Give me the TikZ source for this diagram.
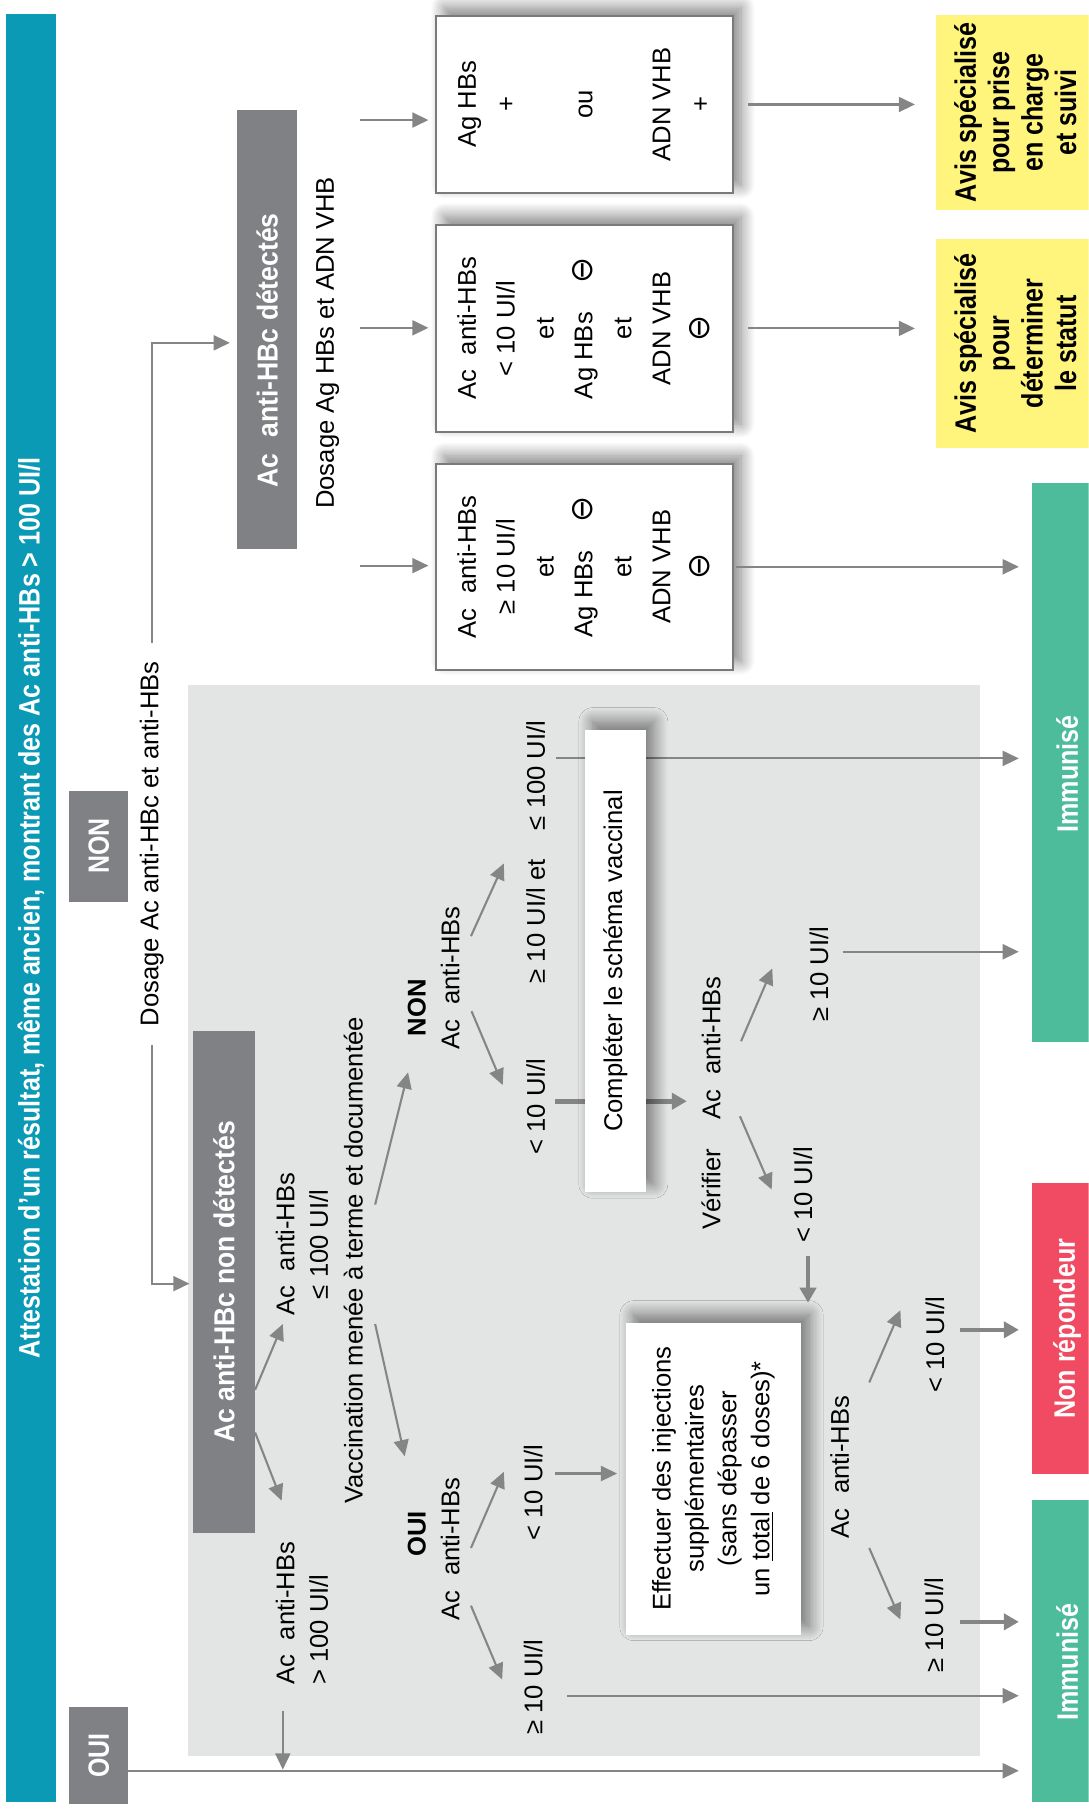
\documentclass[tikz,border=0pt]{standalone}
\usepackage{fontspec}
\setmainfont{Liberation Sans}
\newfontfamily\bodyf{Liberation Sans}
\newfontfamily\condf[FakeStretch=0.85]{Liberation Sans}
\newfontfamily\lblf[FakeStretch=0.92]{Liberation Sans}
\newfontfamily\symf{DejaVu Sans}
\usetikzlibrary{arrows.meta,shadows.blur}
\definecolor{bluebar}{HTML}{0A9AB6}
\definecolor{lblgray}{HTML}{808184}
\definecolor{regiongray}{HTML}{E3E4E4}
\definecolor{arrgray}{HTML}{858585}
\definecolor{boxborder}{HTML}{7A7A7A}
\definecolor{immgreen}{HTML}{4CBC9B}
\definecolor{nonred}{HTML}{F04B63}
\definecolor{avisyellow}{HTML}{FFF47C}
\newcommand{\vt}[1]{\rotatebox{90}{\begin{tabular}{@{}c@{}}#1\end{tabular}}}
\newcommand{\cminus}{{\symf\fontsize{13.5}{13.5}\selectfont ⊖}}
\newcommand{\AcHBs}{Ac\hspace{0.3em} anti-HBs}
\newcommand{\bodysz}{\bodyf\fontsize{11.1}{14.5}\selectfont}
\begin{document}
\begin{tikzpicture}[x=0.5pt,y=-0.5pt,
  sz/.style 2 args={minimum width={#1*0.5pt},minimum height={#2*0.5pt}},
  lbl/.style={rotate=90,inner sep=0pt,font=\bodysz,align=center},
  arr/.style={draw=arrgray,line width=0.9pt,-{Triangle[length=7pt,width=6.5pt]}},
  tarr/.style={draw=arrgray,line width=2pt,-{Triangle[length=6.5pt,width=7pt]}},
  shad/.style={blur shadow={shadow xshift=3.5pt,shadow yshift=3.5pt,shadow blur radius=6pt,shadow blur steps=16,shadow opacity=50}},
  wbox/.style={shad,fill=white,draw=boxborder,line width=0.85pt,inner sep=0pt,font=\bodyf\fontsize{11.1}{16.85}\selectfont},
  pbox/.style={shad,fill=white,inner sep=0pt},
  gbox/.style={fill=lblgray,text=white,inner sep=0pt},
  resbox/.style={inner sep=0pt,text=white,font=\condf\bfseries\fontsize{12.8}{14.5}\selectfont},
  avis/.style={fill=avisyellow,inner sep=0pt,font=\condf\bfseries\fontsize{12.8}{14.5}\selectfont},
]
\useasboundingbox (0,0) rectangle (943,1568);
\clip (0,0) rectangle (943,1568);

% grey region
\fill[regiongray] (163,593) rectangle (849,1521);

% header bar
\node[fill=bluebar,text=white,inner sep=0pt,sz={43.7}{1549},font=\condf\bfseries\fontsize{12.8}{14}\selectfont] (bar) at (26.85,786.5)
  {\rotatebox{90}{Attestation d’un résultat, même ancien, montrant des Ac anti-HBs > 100 UI/l}};

% NON / OUI boxes
\node[gbox,sz={51}{96},font=\condf\bfseries\fontsize{12.7}{14}\selectfont] (non) at (85.5,733) {\rotatebox{90}{NON}};
\node[gbox,sz={51}{84},font=\condf\bfseries\fontsize{12.7}{14}\selectfont] (oui) at (85.5,1521) {\rotatebox{90}{OUI}};

% result boxes (right)
\node[resbox,fill=immgreen,sz={61}{485}] (imm1) at (924.5,660.5) {\rotatebox{90}{Immunisé\hspace{10pt}}};
\node[resbox,fill=nonred,sz={61}{252}] (nr) at (924.5,1151) {\rotatebox{90}{Non répondeur}};
\node[resbox,fill=immgreen,sz={61}{262}] (imm2) at (924.5,1430) {\rotatebox{90}{Immunisé\hspace{10pt}}};
\node[avis,sz={144}{169}] (yA) at (883,97.5) {\vt{Avis spécialisé\\pour prise\\en charge\\et suivi}};
\node[avis,sz={144}{181}] (yB) at (883,297.5) {\vt{Avis spécialisé\\pour\\déterminer\\le statut}};

% grey label boxes
\node[gbox,sz={52}{381},font=\lblf\bfseries\fontsize{12.5}{14}\selectfont] (det) at (231.5,285.5)
  {\rotatebox{90}{Ac\hspace{0.3em} anti-HBc détectés\hspace{18pt}}};
\node[gbox,sz={53}{435},font=\lblf\bfseries\fontsize{12.5}{14}\selectfont] (ndet) at (194,1110.5)
  {\rotatebox{90}{Ac anti-HBc non détectés}};

% top white boxes
\node[wbox,sz={257}{154}] (bA) at (506.5,90.5) {\vt{Ag HBs\\+\\ \\ou\\ \\ADN VHB\\+}};
\node[wbox,sz={257}{180}] (bB) at (506.5,284.5) {\vt{\AcHBs\\< 10 UI/l\\et\\Ag HBs\hspace{1.1em}\cminus\\et\\ADN VHB\\\cminus}};
\node[wbox,sz={257}{178}] (bC) at (506.5,491) {\vt{\AcHBs\\≥ 10 UI/l\\et\\Ag HBs\hspace{1.1em}\cminus\\et\\ADN VHB\\\cminus}};

% labels
\node[lbl,inner xsep=8pt] (dosc) at (131.5,731) {Dosage Ac anti-HBc et anti-HBs};
\node[lbl] (dag) at (284,297) {Dosage Ag HBs et ADN VHB};
\node[lbl] (ab1) at (261.5,1078) {\AcHBs\\≤ 100 UI/l};
\node[lbl,align=left,anchor=west] (ab2) at (261.5,1460) {\AcHBs\\> 100 UI/l};
\node[lbl] (vac) at (306,1092) {Vaccination menée à terme et documentée};
\node[lbl,font=\bodysz\bfseries] (nonl) at (361,873) {NON};
\node[lbl] (acn) at (390,847) {\AcHBs};
\node[lbl,font=\bodysz\bfseries] (ouil) at (361,1329) {OUI};
\node[lbl] (aco) at (390,1342) {\AcHBs};
\node[lbl] (r1) at (464,738) {≥ 10 UI/l et\hspace{1.15em}≤ 100 UI/l};
\node[lbl] (r2) at (464,958.5) {< 10 UI/l};
\node[lbl] (ver) at (616,955.5) {Vérifier\hspace{1.15em}\AcHBs};
\node[lbl] (v1) at (709.5,844) {≥ 10 UI/l};
\node[lbl] (v2) at (695.5,1035) {< 10 UI/l};
\node[lbl] (o1) at (462,1293) {< 10 UI/l};
\node[lbl] (o2) at (462,1461.5) {≥ 10 UI/l};
\node[lbl] (acb) at (727.5,1271) {\AcHBs};
\node[lbl] (e1) at (810,1165) {< 10 UI/l};
\node[lbl] (e2) at (809,1408) {≥ 10 UI/l};

% coordinates for connector ends
\coordinate (dtop) at (131.5,297);
\coordinate (dbot) at (131.5,1112);
\coordinate (sa) at (312,104);
\coordinate (sb) at (312,284);
\coordinate (sc) at (312,490);
\coordinate (n1s) at (221,1204); \coordinate (n1e) at (245,1147);
\coordinate (n2s) at (221,1241); \coordinate (n2e) at (244,1300);
\coordinate (ab2s) at (245,1482);
\coordinate (ol) at (111,1534);
\coordinate (va1s) at (325,1043.5); \coordinate (va1e) at (353.5,929);
\coordinate (va2s) at (325,1147); \coordinate (va2e) at (350.6,1261.5);
\coordinate (nn1s) at (408,811); \coordinate (nn1e) at (436.5,748);
\coordinate (nn2s) at (408.5,876); \coordinate (nn2e) at (435.5,940);
\coordinate (r1s) at (482,657);
\coordinate (r2s) at (481,954); \coordinate (r2e) at (595,954);
\coordinate (ve1s) at (642,902); \coordinate (ve1e) at (669,839);
\coordinate (ve2s) at (641,967); \coordinate (ve2e) at (668.5,1030.5);
\coordinate (v1s) at (730,824.5);
\coordinate (v2s) at (700,1088); \coordinate (v2e) at (700,1128.5);
\coordinate (o1s) at (481,1276.5);
\coordinate (o2s) at (491.5,1469);
\coordinate (ou1s) at (408,1341); \coordinate (ou1e) at (436.5,1275);
\coordinate (ou2s) at (408,1391); \coordinate (ou2e) at (435,1455);
\coordinate (ab1s) at (753,1197.6); \coordinate (ab1e) at (780,1135);
\coordinate (ab3s) at (753,1341); \coordinate (ab3e) at (780,1403);
\coordinate (e1s) at (832,1152);
\coordinate (e2s) at (832,1405);

% lines passing behind the "Compléter" box
\draw[arr,shorten >=5.5pt] (r1s) -- (r1s -| imm1.west);
\draw[tarr] (r2s) -- (r2e);

% Compléter + Effectuer boxes
\node[pbox,sz={53}{401},font=\bodysz] (compl) at (533,832.5) {\rotatebox{90}{Compléter le schéma vaccinal}};
\node[pbox,sz={152}{270.5},font=\bodyf\fontsize{11.1}{14.25}\selectfont] (eff) at (618,1281)
  {\vt{Effectuer des injections\\supplémentaires\\(sans dépasser\\un \underline{total} de 6 doses)*}};

% connectors
\draw[arr,shorten >=3pt] (dosc.east) -- (dtop) -- (dtop -| det.west);
\draw[arr,shorten >=1.5pt] (dosc.west) -- (dbot) -- (dbot -| ndet.west);
\draw[arr,shorten >=3pt] (sa) -- (sa -| bA.west);
\draw[arr,shorten >=3pt] (sb) -- (sb -| bB.west);
\draw[arr,shorten >=3pt] (sc) -- (sc -| bC.west);
\draw[arr,shorten <=6pt,shorten >=9pt] (bA.east) -- (bA.east -| yA.west);
\draw[arr,shorten <=6pt,shorten >=9pt] (bB.east) -- (bB.east -| yB.west);
\draw[arr,shorten <=1pt,shorten >=5.5pt] (bC.east) -- (bC.east -| imm1.west);
\draw[arr] (n1s) -- (n1e);
\draw[arr] (n2s) -- (n2e);
\draw[arr,shorten >=0.5pt] (ab2s) -- (ab2s |- ol);
\draw[arr,shorten >=5.5pt] (ol) -- (ol -| imm2.west);
\draw[arr] (va1s) -- (va1e);
\draw[arr] (va2s) -- (va2e);
\draw[arr] (nn1s) -- (nn1e);
\draw[arr] (nn2s) -- (nn2e);
\draw[arr] (ve1s) -- (ve1e);
\draw[arr] (ve2s) -- (ve2e);
\draw[arr,shorten >=5.5pt] (v1s) -- (v1s -| imm1.west);
\draw[tarr] (v2s) -- (v2e);
\draw[arr,shorten >=3.5pt] (o1s) -- (o1s -| eff.west);
\draw[arr,shorten >=5.5pt] (o2s) -- (o2s -| imm2.west);
\draw[arr] (ou1s) -- (ou1e);
\draw[arr] (ou2s) -- (ou2e);
\draw[arr] (ab1s) -- (ab1e);
\draw[arr] (ab3s) -- (ab3e);
\draw[tarr,shorten >=5.5pt] (e1s) -- (e1s -| nr.west);
\draw[tarr,shorten >=5.5pt] (e2s) -- (e2s -| imm2.west);
\end{tikzpicture}
\end{document}
